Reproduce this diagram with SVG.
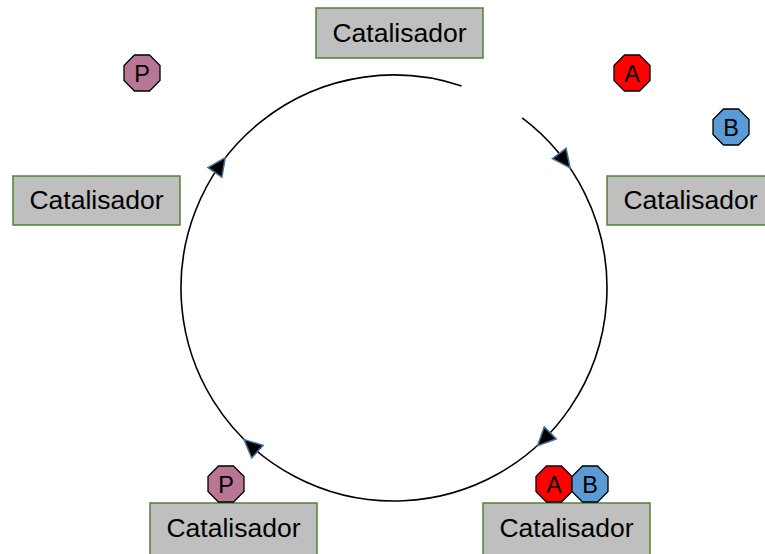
<svg xmlns="http://www.w3.org/2000/svg" width="765" height="554" viewBox="0 0 765 554">
  <defs>
    <style>
      .box { fill: #BFBFBF; stroke: #548235; stroke-width: 1.5; }
      .lbl { font-family: "Liberation Sans", Arial, sans-serif; font-size: 26.5px; fill: #000; text-anchor: middle; }
      .oct { stroke: #000; stroke-width: 1.3; }
      .olbl { font-family: "Liberation Sans", Arial, sans-serif; font-size: 23.5px; fill: #000; text-anchor: middle; }
      .ring { fill: none; stroke: #000; stroke-width: 1.6; }
      .head { fill: #000; stroke: #41719C; stroke-width: 1.5; stroke-linejoin: miter; }
    </style>
    <!-- regular octagon, flat top, apothem 18 -->
    <polygon id="octagon" points="7.5,-18 18,-7.5 18,7.5 7.5,18 -7.5,18 -18,7.5 -18,-7.5 -7.5,-18"/>
    <!-- arrowhead pointing along +y (clockwise tangent at angle 0) -->
    <polygon id="arrowhead" points="0,10 -8.5,-8 8.5,-8"/>
  </defs>

  <!-- cycle ring and its direction arrowheads -->
  <g id="connectors">
    <path class="ring" d="M522.2,117.9 A213,213 0 1 1 461.6,86.0"/>
    <g transform="translate(394,288)">
      <use href="#arrowhead" class="head" transform="rotate(-37) translate(213,0)"/>
      <use href="#arrowhead" class="head" transform="rotate(45) translate(213,0)"/>
      <use href="#arrowhead" class="head" transform="rotate(132) translate(213,0)"/>
      <use href="#arrowhead" class="head" transform="rotate(215) translate(213,0)"/>
    </g>
  </g>

  <g id="cat-top">
    <rect class="box" x="316" y="8" width="167" height="50"/>
    <text class="lbl" x="399.5" y="42">Catalisador</text>
  </g>
  <g id="cat-right">
    <rect class="box" x="607" y="176" width="167" height="49"/>
    <text class="lbl" x="690.5" y="209">Catalisador</text>
  </g>
  <g id="cat-bottom-right">
    <rect class="box" x="483" y="503" width="167" height="55"/>
    <text class="lbl" x="566.5" y="537">Catalisador</text>
  </g>
  <g id="cat-bottom-left">
    <rect class="box" x="150" y="503" width="167" height="55"/>
    <text class="lbl" x="233.5" y="537">Catalisador</text>
  </g>
  <g id="cat-left">
    <rect class="box" x="13" y="176" width="167" height="49"/>
    <text class="lbl" x="96.5" y="209">Catalisador</text>
  </g>

  <g id="mol-a-free">
    <use href="#octagon" class="oct" fill="#FF0000" transform="translate(632,73)"/>
    <text class="olbl" x="632" y="82">A</text>
  </g>
  <g id="mol-b-free">
    <use href="#octagon" class="oct" fill="#5B9BD5" transform="translate(731,127)"/>
    <text class="olbl" x="731" y="136">B</text>
  </g>
  <g id="mol-a-bound">
    <use href="#octagon" class="oct" fill="#FF0000" transform="translate(554,484)"/>
    <text class="olbl" x="554" y="493">A</text>
  </g>
  <g id="mol-b-bound">
    <use href="#octagon" class="oct" fill="#5B9BD5" transform="translate(590,484)"/>
    <text class="olbl" x="590" y="493">B</text>
  </g>
  <g id="mol-p-bound">
    <use href="#octagon" class="oct" fill="#B77794" transform="translate(226,484)"/>
    <text class="olbl" x="226" y="493">P</text>
  </g>
  <g id="mol-p-free">
    <use href="#octagon" class="oct" fill="#B77794" transform="translate(142,73)"/>
    <text class="olbl" x="142" y="82">P</text>
  </g>
</svg>
